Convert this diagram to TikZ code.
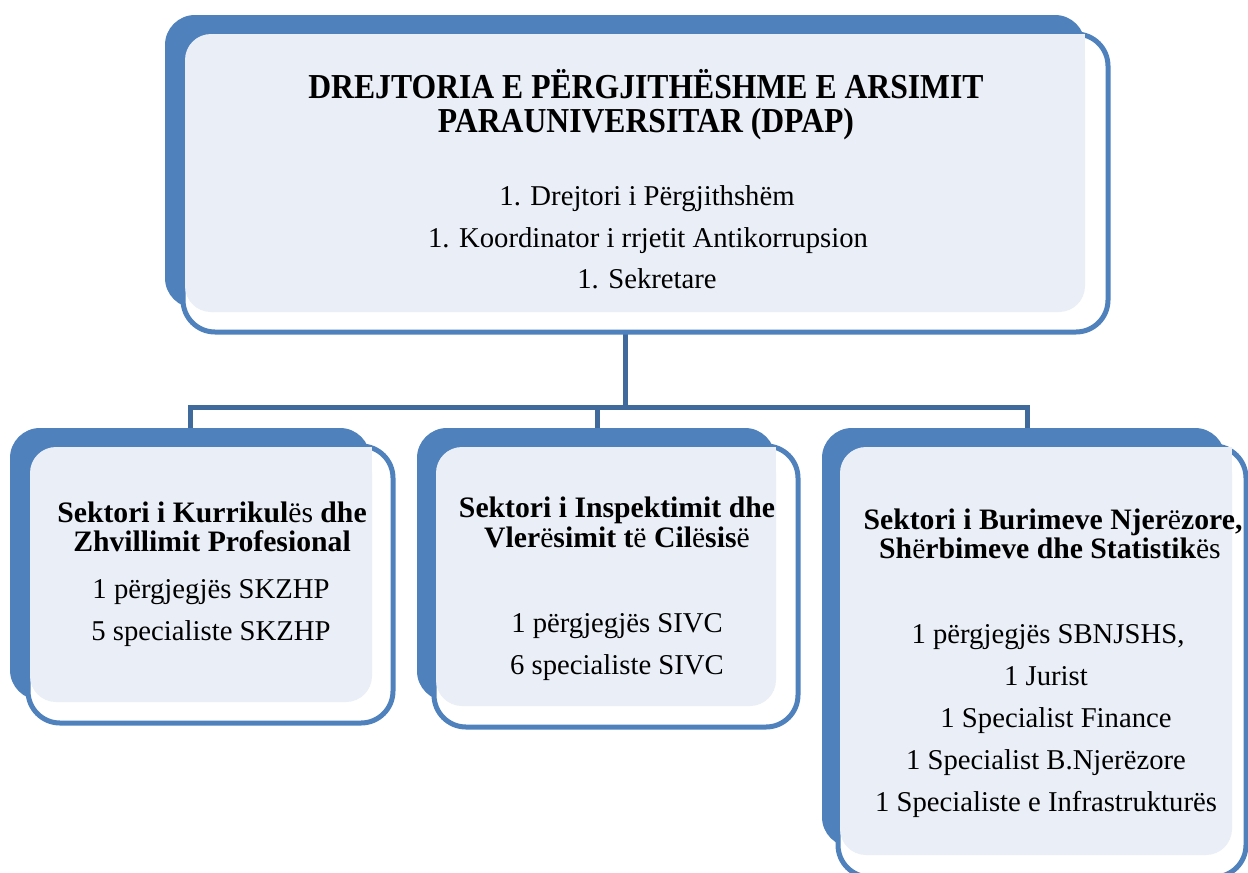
\documentclass[tikz,border=0pt]{standalone}
\usepackage{fontspec}
\setmainfont{Liberation Serif}
\newfontfamily\titlefont[FakeStretch=0.905]{Liberation Serif}
\definecolor{bblue}{HTML}{4F81BD}
\definecolor{cblue}{HTML}{416A9C}
\definecolor{litefill}{HTML}{EAEFF7}
\tikzset{
  backbox/.style={fill=bblue, rounded corners=30pt},
  outbox/.style={draw=bblue, fill=white, line width=5pt, rounded corners=32pt},
  litebox/.style={fill=litefill, rounded corners=26pt},
  link/.style={draw=cblue, line width=5pt, line join=miter},
  ttl/.style={font=\titlefont\bfseries\fontsize{35}{35}\selectfont, anchor=base, inner sep=0pt},
  itm/.style={font=\fontsize{28.7}{28.7}\selectfont, anchor=base, inner sep=0pt},
  hdg/.style={font=\bfseries\fontsize{29.7}{29.7}\selectfont, anchor=base, inner sep=0pt}
}
\begin{document}
\begin{tikzpicture}[x=1pt,y=-1pt]
\useasboundingbox (0,0) rectangle (1248,873);
\clip (0,0) rectangle (1248,873);

% connectors
\coordinate (mbot) at (625,333);
\coordinate (busc) at (625,407);
\coordinate (busl) at (190,407);
\coordinate (busm) at (597,407);
\coordinate (busr) at (1027,407);
\coordinate (k1top) at (190,432);
\coordinate (k2top) at (597,432);
\coordinate (k3top) at (1027,432);
\draw[link] (mbot) -- (busc);
\draw[link] (k1top) -- (busl) -- (busr) -- (k3top);
\draw[link] (busm) -- (k2top);

% main box
\fill[backbox] (165,15) rectangle (1085,308);
\draw[outbox] (183,34) rectangle (1108,332);
\fill[litebox] (185,34) rectangle (1085,312);
\fill[litefill] (1050,34) rectangle (1085,64);

% box 1
\fill[backbox] (10,428) rectangle (370,700);
\draw[outbox] (28,446) rectangle (393,723);
\fill[litebox] (30,447) rectangle (372,702);
\fill[litefill] (340,447) rectangle (372,477);

% box 2
\fill[backbox] (417,428) rectangle (775,701);
\draw[outbox] (434,446) rectangle (798,727);
\fill[litebox] (436,447) rectangle (776,706);
\fill[litefill] (745,447) rectangle (776,477);

% box 3
\fill[backbox] (822,428) rectangle (1225,847);
\draw[outbox] (838,446) rectangle (1246,877);
\fill[litebox] (840,447) rectangle (1232,855);
\fill[litefill] (1195,447) rectangle (1232,477);

% texts main
\node[ttl] (t1) at (646,98) {DREJTORIA E PËRGJITHËSHME E ARSIMIT};
\node[ttl] (t2) at (646,132) {PARAUNIVERSITAR (DPAP)};
\node[itm] (m1) at (647,205) {1. Drejtori i Përgjithshëm};
\node[itm] (m2) at (648,247) {1. Koordinator i rrjetit Antikorrupsion};
\node[itm] (m3) at (647,288) {1. Sekretare};

% box 1 texts
\node[hdg] (h11) at (212,522) {Sektori i Kurrikul{\mdseries ës} dhe};
\node[hdg] (h12) at (212,551) {Zhvillimit Profesional};
\node[itm] (i11) at (211,598) {1 përgjegjës SKZHP};
\node[itm] (i12) at (211,640) {5 specialiste SKZHP};

% box 2 texts
\node[hdg] (h21) at (617,517) {Sektori i Inspektimit dhe};
\node[hdg] (h22) at (617,547) {Vler{\mdseries ë}simit t{\mdseries ë} Cil{\mdseries ë}sis{\mdseries ë}};
\node[itm] (i21) at (617,632) {1 përgjegjës SIVC};
\node[itm] (i22) at (617,674) {6 specialiste SIVC};

% box 3 texts
\node[hdg] (h31) at (1053,529) {Sektori i Burimeve Njer{\mdseries ë}zore,};
\node[hdg] (h32) at (1050,558) {Sh{\mdseries ë}rbimeve dhe Statistik{\mdseries ës}};
\node[itm] (i31) at (1048,643) {1 përgjegjës SBNJSHS,};
\node[itm] (i32) at (1046,685) {1 Jurist};
\node[itm] (i33) at (1056,727) {1 Specialist Finance};
\node[itm] (i34) at (1046,769) {1 Specialist B.Njerëzore};
\node[itm] (i35) at (1046,811) {1 Specialiste e Infrastrukturës};
\end{tikzpicture}
\end{document}
